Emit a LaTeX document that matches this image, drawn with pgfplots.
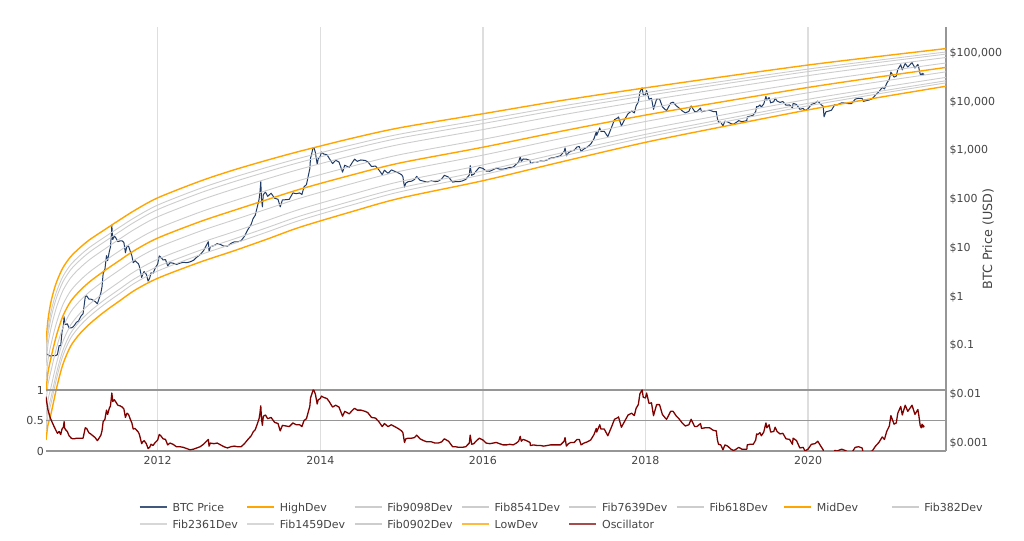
\documentclass[border=0pt]{standalone}
\usepackage{fontspec}
\setmainfont{DejaVu Sans}
\usepackage{pgfplots}
\usepackage{pgfplotstable}
\pgfplotsset{compat=1.18}
\definecolor{btcblue}{RGB}{31,59,102}
\definecolor{devorange}{RGB}{255,165,0}
\definecolor{fibgray}{RGB}{205,205,205}
\definecolor{oscred}{RGB}{128,0,0}
\definecolor{gridgray}{RGB}{222,222,222}
\definecolor{axgray}{RGB}{150,150,150}
\definecolor{tickgray}{RGB}{68,68,68}
\newcommand\tickfont{\fontsize{11bp}{13bp}\selectfont}

\pgfplotstableread{
t H F9098 F8541 F7639 F618 M F382 F2361 F1459 F0902 L
2010.626 0.1125 0.0745 0.0577 0.0382 0.0196 0.01141 0.00665 0.00341 0.00226 0.00175 0.00116
2010.650 0.333 0.2130 0.1616 0.1034 0.0502 0.02797 0.01559 0.00757 0.00484 0.00367 0.00235
2010.684 0.743 0.461 0.3437 0.2133 0.0987 0.0529 0.02835 0.01311 0.00814 0.00607 0.003765
2010.724 1.372 0.859 0.6435 0.4029 0.1889 0.1024 0.05549 0.02602 0.0163 0.0122 0.00764
2010.765 2.199 1.406 1.067 0.6825 0.3314 0.1847 0.1029 0.04996 0.03195 0.02425 0.01551
2010.835 3.967 2.630 2.041 1.353 0.6966 0.4072 0.2378 0.1224 0.0812 0.0630 0.04177
2010.930 6.664 4.553 3.599 2.459 1.328 0.807 0.4903 0.2647 0.1809 0.1429 0.0977
2011.044 10.19 7.069 5.637 3.909 2.163 1.340 0.830 0.4592 0.3184 0.2540 0.1762
2011.167 15.01 10.48 8.405 5.873 3.289 2.058 1.288 0.7214 0.5042 0.4041 0.2823
2011.339 23.27 16.41 13.23 9.334 5.306 3.363 2.130 1.211 0.8545 0.6888 0.4860
2011.536 38.19 27.06 21.87 15.49 8.870 5.650 3.599 2.061 1.460 1.180 0.8359
2011.721 59.79 42.54 34.46 24.53 14.14 9.057 5.800 3.345 2.379 1.929 1.372
2012.004 107.8 76.56 61.97 43.99 25.27 16.14 10.31 5.927 4.206 3.404 2.416
2012.520 234.9 166.4 134.5 95.28 54.58 34.75 22.13 12.68 8.981 7.259 5.142
2012.926 394.8 279.6 226.0 160.1 91.70 58.40 37.20 21.30 15.09 12.20 8.640
2013.345 632.6 452.0 367.3 262.4 152.3 98.13 63.21 36.69 26.21 21.30 15.22
2013.751 967.6 700.1 573.5 415.0 245.9 161.1 105.5 62.52 45.24 37.05 26.82
2014.366 1745 1276 1052 769.6 464.2 308.2 204.6 123.4 90.24 74.39 54.41
2014.981 2932 2172 1805 1337 823.0 555.7 375.4 231.0 171.1 142.2 105.3
2016.002 5677 4269 3579 2691 1696 1168 804.6 507.4 381.4 319.8 240.5
2016.949 10484 8069 6866 5284 3460 2457 1745 1142 879.4 747.9 575.7
2018.007 19360 15358 13305 10549 7250 5351 3952 2716 2153 1866 1480
2019.040 34100 27625 24256 19650 13976 10607 8053 5727 4638 4073 3300
2020.024 57310 47370 42100 34790 25560 19920 15520 11400 9422 8375 6922
2020.886 85570 71910 64520 54200 40880 32540 25900 19520 16400 14730 12370
2021.697 123100 104800 94950 80870 62390 50570 41010 31620 26940 24400 20780
}\bands

\pgfplotstableread{
t p
2010.625 0.07
2010.647 0.065
2010.677 0.061
2010.705 0.062
2010.740 0.062
2010.766 0.065
2010.788 0.10
2010.807 0.10
2010.823 0.19
2010.840 0.26
2010.849 0.39
2010.855 0.28
2010.866 0.27
2010.888 0.28
2010.910 0.23
2010.937 0.23
2010.956 0.24
2010.975 0.26
2011.000 0.30
2011.027 0.32
2011.055 0.40
2011.082 0.45
2011.109 1.00
2011.126 1.05
2011.153 0.90
2011.175 0.90
2011.203 0.86
2011.230 0.80
2011.258 0.72
2011.279 0.92
2011.301 1.2
2011.315 1.6
2011.329 3.0
2011.351 3.7
2011.370 7.0
2011.384 5.5
2011.405 8.5
2011.419 10.5
2011.430 18.5
2011.436 29.6
2011.441 20
2011.447 15
2011.466 17.5
2011.482 16.5
2011.510 13.5
2011.537 14
2011.564 14
2011.584 13
2011.603 8
2011.622 11
2011.641 11
2011.666 8.2
2011.682 7
2011.699 5
2011.721 5.5
2011.748 5
2011.762 4.8
2011.775 4.2
2011.803 2.5
2011.816 2.9
2011.833 3.3
2011.860 2.9
2011.882 2.1
2011.901 2.4
2011.918 3.1
2011.942 3.0
2011.970 3.9
2012.000 4.7
2012.019 6.9
2012.038 6.5
2012.066 5.7
2012.096 5.8
2012.123 4.3
2012.151 5.0
2012.189 4.9
2012.230 4.6
2012.274 4.9
2012.315 5.1
2012.356 5.0
2012.397 5.2
2012.440 5.6
2012.481 6.5
2012.522 7.3
2012.563 8.8
2012.593 10.9
2012.623 13.5
2012.632 8.5
2012.648 10.6
2012.691 11.2
2012.732 12.3
2012.774 11.8
2012.815 10.9
2012.858 10.9
2012.900 12.4
2012.941 13.4
2012.982 13.4
2013.026 14.1
2013.067 17.4
2013.110 24
2013.151 31
2013.173 40
2013.200 47
2013.227 72
2013.247 100
2013.258 140
2013.268 230
2013.277 100
2013.288 70
2013.299 125
2013.326 140
2013.353 115
2013.395 133
2013.438 105
2013.480 100
2013.507 70
2013.534 97
2013.578 98
2013.619 100
2013.663 135
2013.704 130
2013.747 135
2013.774 125
2013.800 180
2013.830 200
2013.852 300
2013.871 420
2013.880 700
2013.890 800
2013.912 1150
2013.923 1150
2013.940 900
2013.962 520
2013.975 680
2014.000 760
2014.014 930
2014.040 850
2014.082 820
2014.110 690
2014.151 540
2014.189 630
2014.230 580
2014.274 360
2014.301 500
2014.356 450
2014.397 580
2014.422 665
2014.455 600
2014.499 640
2014.551 625
2014.584 590
2014.630 470
2014.679 480
2014.721 400
2014.762 320
2014.789 395
2014.833 340
2014.874 400
2014.915 375
2014.956 350
2015.000 320
2015.016 290
2015.036 178
2015.052 215
2015.082 230
2015.123 235
2015.159 255
2015.186 295
2015.227 245
2015.271 235
2015.312 225
2015.367 238
2015.411 230
2015.452 235
2015.493 262
2015.526 310
2015.578 285
2015.628 225
2015.663 230
2015.704 230
2015.745 237
2015.789 255
2015.833 315
2015.844 490
2015.862 310
2015.888 325
2015.915 375
2015.956 450
2016.000 430
2016.041 380
2016.085 375
2016.126 405
2016.164 435
2016.205 415
2016.249 415
2016.290 430
2016.331 450
2016.372 455
2016.413 530
2016.440 580
2016.459 750
2016.473 600
2016.495 670
2016.536 665
2016.580 625
2016.585 540
2016.623 570
2016.667 575
2016.708 610
2016.749 610
2016.790 640
2016.831 700
2016.872 710
2016.913 745
2016.954 780
2017.000 960
2017.011 1130
2017.027 780
2017.052 895
2017.082 970
2017.123 1010
2017.159 1190
2017.186 1200
2017.208 960
2017.244 1080
2017.285 1180
2017.326 1350
2017.367 1750
2017.395 2400
2017.400 2050
2017.438 2900
2017.452 2450
2017.493 2480
2017.537 1920
2017.578 2850
2017.619 4300
2017.663 4700
2017.668 4900
2017.704 3200
2017.745 4350
2017.786 5700
2017.830 6450
2017.863 5900
2017.885 8200
2017.912 9900
2017.932 16000
2017.959 19300
2017.973 13800
2018.000 13900
2018.014 17000
2018.044 11200
2018.074 11800
2018.099 7000
2018.137 11300
2018.173 11500
2018.208 7900
2018.244 6900
2018.260 6600
2018.310 9400
2018.340 9800
2018.381 8200
2018.411 7500
2018.452 6500
2018.490 5900
2018.534 6350
2018.562 8200
2018.605 6300
2018.633 6300
2018.677 7400
2018.690 6200
2018.732 6500
2018.789 6700
2018.833 6300
2018.871 6300
2018.885 4500
2018.899 3800
2018.926 3800
2018.953 3200
2018.978 4000
2019.011 3850
2019.052 3550
2019.082 3450
2019.104 3650
2019.148 4100
2019.186 3900
2019.247 4100
2019.252 4900
2019.285 5050
2019.326 5300
2019.356 6300
2019.367 8000
2019.381 7800
2019.408 8600
2019.425 7800
2019.455 9000
2019.482 12900
2019.493 10800
2019.521 12200
2019.540 9500
2019.578 10000
2019.595 11900
2019.619 10300
2019.655 9700
2019.690 10100
2019.729 8500
2019.773 8600
2019.808 7500
2019.816 9250
2019.858 8800
2019.899 7000
2019.940 7300
2019.962 6600
2020.000 7200
2020.041 8800
2020.085 9350
2020.120 10300
2020.161 8700
2020.186 8100
2020.197 4900
2020.219 6200
2020.249 6400
2020.288 6700
2020.329 8700
2020.356 8600
2020.413 9500
2020.454 9400
2020.495 9150
2020.536 9200
2020.580 11300
2020.621 11800
2020.665 11700
2020.679 10200
2020.747 10800
2020.789 11500
2020.830 13800
2020.871 16000
2020.913 19700
2020.940 18300
2020.967 23800
2021.000 29000
2021.019 40500
2021.058 32000
2021.085 33500
2021.104 46000
2021.140 57500
2021.159 45000
2021.195 61000
2021.227 51500
2021.279 63500
2021.315 49000
2021.351 58500
2021.362 50000
2021.379 37000
2021.392 34500
2021.403 38500
2021.414 35500
2021.419 37500
2021.427 35800
}\price

\pgfplotstableread{
t o
2010.625 0.89
2010.647 0.69
2010.677 0.55
2010.705 0.46
2010.740 0.36
2010.766 0.29
2010.788 0.32
2010.807 0.27
2010.823 0.36
2010.840 0.39
2010.849 0.48
2010.855 0.38
2010.866 0.35
2010.888 0.32
2010.910 0.25
2010.937 0.21
2010.956 0.20
2010.975 0.20
2011.000 0.21
2011.027 0.21
2011.055 0.21
2011.082 0.21
2011.109 0.38
2011.126 0.37
2011.153 0.30
2011.175 0.28
2011.203 0.25
2011.230 0.22
2011.258 0.17
2011.279 0.21
2011.301 0.26
2011.315 0.33
2011.329 0.48
2011.351 0.52
2011.370 0.67
2011.384 0.60
2011.405 0.70
2011.419 0.74
2011.430 0.87
2011.436 0.95
2011.441 0.89
2011.447 0.81
2011.466 0.84
2011.482 0.81
2011.510 0.75
2011.537 0.74
2011.564 0.72
2011.584 0.69
2011.603 0.55
2011.622 0.62
2011.641 0.60
2011.666 0.51
2011.682 0.46
2011.699 0.36
2011.721 0.37
2011.748 0.33
2011.762 0.31
2011.775 0.27
2011.803 0.12
2011.816 0.15
2011.833 0.17
2011.860 0.12
2011.882 0.04
2011.901 0.06
2011.918 0.11
2011.942 0.09
2011.970 0.14
2012.000 0.18
2012.019 0.27
2012.038 0.25
2012.066 0.20
2012.096 0.19
2012.123 0.10
2012.151 0.13
2012.189 0.11
2012.230 0.07
2012.274 0.07
2012.315 0.06
2012.356 0.04
2012.397 0.02
2012.440 0.03
2012.481 0.05
2012.522 0.07
2012.563 0.11
2012.593 0.15
2012.623 0.19
2012.632 0.08
2012.648 0.13
2012.691 0.12
2012.732 0.13
2012.774 0.10
2012.815 0.07
2012.858 0.05
2012.900 0.07
2012.941 0.08
2012.982 0.07
2013.026 0.07
2013.067 0.12
2013.110 0.19
2013.151 0.25
2013.173 0.31
2013.200 0.35
2013.227 0.45
2013.247 0.53
2013.258 0.62
2013.268 0.74
2013.277 0.52
2013.288 0.42
2013.299 0.57
2013.326 0.59
2013.353 0.53
2013.395 0.55
2013.438 0.47
2013.480 0.45
2013.507 0.33
2013.534 0.42
2013.578 0.41
2013.619 0.40
2013.663 0.46
2013.704 0.43
2013.747 0.43
2013.774 0.40
2013.800 0.50
2013.830 0.53
2013.852 0.64
2013.871 0.73
2013.880 0.87
2013.890 0.91
2013.912 1.00
2013.923 0.99
2013.940 0.93
2013.962 0.77
2013.975 0.84
2014.000 0.86
2014.014 0.90
2014.040 0.88
2014.082 0.86
2014.110 0.81
2014.151 0.72
2014.189 0.75
2014.230 0.72
2014.274 0.57
2014.301 0.65
2014.356 0.61
2014.397 0.67
2014.422 0.70
2014.455 0.67
2014.499 0.67
2014.551 0.65
2014.584 0.63
2014.630 0.55
2014.679 0.54
2014.721 0.48
2014.762 0.40
2014.789 0.45
2014.833 0.40
2014.874 0.43
2014.915 0.40
2014.956 0.37
2015.000 0.33
2015.016 0.30
2015.036 0.14
2015.052 0.20
2015.082 0.21
2015.123 0.21
2015.159 0.22
2015.186 0.26
2015.227 0.20
2015.271 0.17
2015.312 0.15
2015.367 0.15
2015.411 0.13
2015.452 0.13
2015.493 0.15
2015.526 0.20
2015.578 0.16
2015.628 0.07
2015.663 0.07
2015.704 0.06
2015.745 0.06
2015.789 0.07
2015.833 0.13
2015.844 0.26
2015.862 0.11
2015.888 0.12
2015.915 0.16
2015.956 0.21
2016.000 0.18
2016.041 0.13
2016.085 0.12
2016.126 0.13
2016.164 0.14
2016.205 0.12
2016.249 0.10
2016.290 0.10
2016.331 0.11
2016.372 0.10
2016.413 0.13
2016.440 0.16
2016.459 0.24
2016.473 0.16
2016.495 0.19
2016.536 0.17
2016.580 0.14
2016.585 0.09
2016.623 0.10
2016.667 0.09
2016.708 0.09
2016.749 0.08
2016.790 0.09
2016.831 0.10
2016.872 0.10
2016.913 0.10
2016.954 0.10
2017.000 0.16
2017.011 0.22
2017.027 0.08
2017.052 0.12
2017.082 0.14
2017.123 0.14
2017.159 0.19
2017.186 0.19
2017.208 0.10
2017.244 0.13
2017.285 0.15
2017.326 0.18
2017.367 0.27
2017.395 0.37
2017.400 0.31
2017.438 0.43
2017.452 0.36
2017.493 0.36
2017.537 0.25
2017.578 0.38
2017.619 0.52
2017.663 0.55
2017.668 0.56
2017.704 0.39
2017.745 0.49
2017.786 0.59
2017.830 0.62
2017.863 0.58
2017.885 0.70
2017.912 0.76
2017.932 0.94
2017.959 1.00
2017.973 0.88
2018.000 0.87
2018.014 0.95
2018.044 0.78
2018.074 0.79
2018.099 0.58
2018.137 0.76
2018.173 0.76
2018.208 0.60
2018.244 0.54
2018.260 0.52
2018.310 0.65
2018.340 0.65
2018.381 0.57
2018.411 0.53
2018.452 0.46
2018.490 0.41
2018.534 0.43
2018.562 0.52
2018.605 0.40
2018.633 0.40
2018.677 0.45
2018.690 0.37
2018.732 0.38
2018.789 0.38
2018.833 0.34
2018.871 0.33
2018.885 0.18
2018.899 0.11
2018.926 0.10
2018.953 0.02
2018.978 0.10
2019.011 0.08
2019.052 0.03
2019.082 0.01
2019.104 0.02
2019.148 0.06
2019.186 0.03
2019.247 0.03
2019.252 0.10
2019.285 0.11
2019.326 0.11
2019.356 0.18
2019.367 0.28
2019.381 0.27
2019.408 0.30
2019.425 0.25
2019.455 0.31
2019.482 0.46
2019.493 0.38
2019.521 0.43
2019.540 0.31
2019.578 0.32
2019.595 0.39
2019.619 0.32
2019.655 0.28
2019.690 0.29
2019.729 0.20
2019.773 0.19
2019.808 0.11
2019.816 0.21
2019.858 0.17
2019.899 0.05
2019.940 0.06
2019.962 0.00
2020.000 0.03
2020.041 0.11
2020.085 0.12
2020.120 0.16
2020.161 0.07
2020.186 0.02
2020.197 -0.22
2020.219 -0.12
2020.249 -0.11
2020.288 -0.10
2020.329 0.01
2020.356 0.00
2020.413 0.03
2020.454 0.01
2020.495 -0.02
2020.536 -0.03
2020.580 0.06
2020.621 0.07
2020.665 0.05
2020.679 -0.03
2020.747 -0.02
2020.789 0.00
2020.830 0.08
2020.871 0.14
2020.913 0.23
2020.940 0.19
2020.967 0.32
2021.000 0.41
2021.019 0.58
2021.058 0.44
2021.085 0.46
2021.104 0.62
2021.140 0.73
2021.159 0.59
2021.195 0.75
2021.227 0.65
2021.279 0.75
2021.315 0.60
2021.351 0.68
2021.362 0.59
2021.379 0.42
2021.392 0.38
2021.403 0.44
2021.414 0.39
2021.419 0.42
2021.427 0.39
}\osc

\begin{document}
\begin{tikzpicture}
\path[use as bounding box] (0,0) rectangle (1024bp,541bp);
\begin{axis}[
  at={(46bp,90bp)}, anchor=south west,
  scale only axis, width=900bp, height=424bp,
  xmin=2010.626, xmax=2021.697,
  ymode=log, ymin=6.89e-4, ymax=3.41e5,
  axis x line*=bottom, axis y line*=right,
  axis line style={-, draw=axgray, line width=1.4bp},
  xtick={2012,2014,2016,2018,2020},
  xticklabels={2012,2014,2016,2018,2020},
  ytick={1e-3,1e-2,1e-1,1,10,100,1000,10000,100000},
  yticklabels={\$0.001,\$0.01,\$0.1,\$1,\$10,\$100,{\$1,000},{\$10,000},{\$100,000}},
  tick style={draw=none},
  major tick length=0pt, minor tick length=0pt,
  xmajorgrids, grid style={draw=gridgray, line width=1.3bp},
  tick label style={font=\tickfont, text=tickgray},
  xticklabel style={yshift=-2bp},
  band/.style={smooth, tension=0.5},
]
\addplot[btcblue, line width=1bp, line join=round] table[x=t,y=p] {\price};
\addplot[devorange, line width=1.4bp, band] table[x=t,y=H] {\bands};
\addplot[fibgray, line width=0.9bp, band] table[x=t,y=F9098] {\bands};
\addplot[fibgray, line width=0.9bp, band] table[x=t,y=F8541] {\bands};
\addplot[fibgray, line width=0.9bp, band] table[x=t,y=F7639] {\bands};
\addplot[fibgray, line width=0.9bp, band] table[x=t,y=F618] {\bands};
\addplot[devorange, line width=1.4bp, band] table[x=t,y=M] {\bands};
\addplot[fibgray, line width=0.9bp, band] table[x=t,y=F382] {\bands};
\addplot[fibgray, line width=0.9bp, band] table[x=t,y=F2361] {\bands};
\addplot[fibgray, line width=0.9bp, band] table[x=t,y=F1459] {\bands};
\addplot[fibgray, line width=0.9bp, band] table[x=t,y=F0902] {\bands};
\addplot[devorange, line width=1.4bp, band] table[x=t,y=L] {\bands};
\end{axis}
\begin{axis}[
  at={(46bp,90bp)}, anchor=south west,
  scale only axis, width=900bp, height=61bp,
  xmin=2010.626, xmax=2021.697, ymin=0, ymax=1,
  axis line style={draw=none},
  xtick=\empty,
  ytick={0,0.5,1}, yticklabels={0,0.5,1},
  tick style={draw=none}, major tick length=0pt,
  ymajorgrids, grid style={draw=axgray, line width=1.4bp},
  tick label style={font=\tickfont, text=tickgray},
  yticklabel style={xshift=1.5bp},
]
\addplot[oscred, line width=1.3bp, line join=round] table[x=t,y=o] {\osc};
\end{axis}
\node[rotate=90, text=tickgray, font=\fontsize{12.7bp}{15bp}\selectfont] at (988bp,302bp) {BTC Price (USD)};
% legend
\begin{scope}[every node/.style={anchor=base west, inner sep=0pt, text=tickgray, font=\tickfont}]
\draw[btcblue!85, line width=1.2bp]  (139.7bp,34bp) -- ++(27bp,0);
\node at (172.3bp,30bp) {BTC Price};
\draw[devorange, line width=1.8bp] (247.1bp,34bp) -- ++(27bp,0);
\node at (279.7bp,30bp) {HighDev};
\draw[fibgray, line width=1.2bp]   (354.5bp,34bp) -- ++(27bp,0);
\node at (387.1bp,30bp) {Fib9098Dev};
\draw[fibgray, line width=1.2bp]   (461.9bp,34bp) -- ++(27bp,0);
\node at (494.5bp,30bp) {Fib8541Dev};
\draw[fibgray, line width=1.2bp]   (569.3bp,34bp) -- ++(27bp,0);
\node at (601.9bp,30bp) {Fib7639Dev};
\draw[fibgray, line width=1.2bp]   (676.7bp,34bp) -- ++(27bp,0);
\node at (709.3bp,30bp) {Fib618Dev};
\draw[devorange, line width=1.8bp] (784.1bp,34bp) -- ++(27bp,0);
\node at (816.7bp,30bp) {MidDev};
\draw[fibgray, line width=1.2bp]   (891.5bp,34bp) -- ++(27bp,0);
\node at (924.1bp,30bp) {Fib382Dev};
\draw[fibgray!80, line width=1.8bp]   (139.7bp,17bp) -- ++(27bp,0);
\node at (172.3bp,13bp) {Fib2361Dev};
\draw[fibgray!80, line width=1.8bp]   (247.1bp,17bp) -- ++(27bp,0);
\node at (279.7bp,13bp) {Fib1459Dev};
\draw[fibgray, line width=1.4bp]   (354.5bp,17bp) -- ++(27bp,0);
\node at (387.1bp,13bp) {Fib0902Dev};
\draw[devorange!75, line width=2bp] (461.9bp,17bp) -- ++(27bp,0);
\node at (494.5bp,13bp) {LowDev};
\draw[oscred!70, line width=2bp] (569.3bp,17bp) -- ++(27bp,0);
\node at (601.9bp,13bp) {Oscillator};
\end{scope}
\end{tikzpicture}
\end{document}
